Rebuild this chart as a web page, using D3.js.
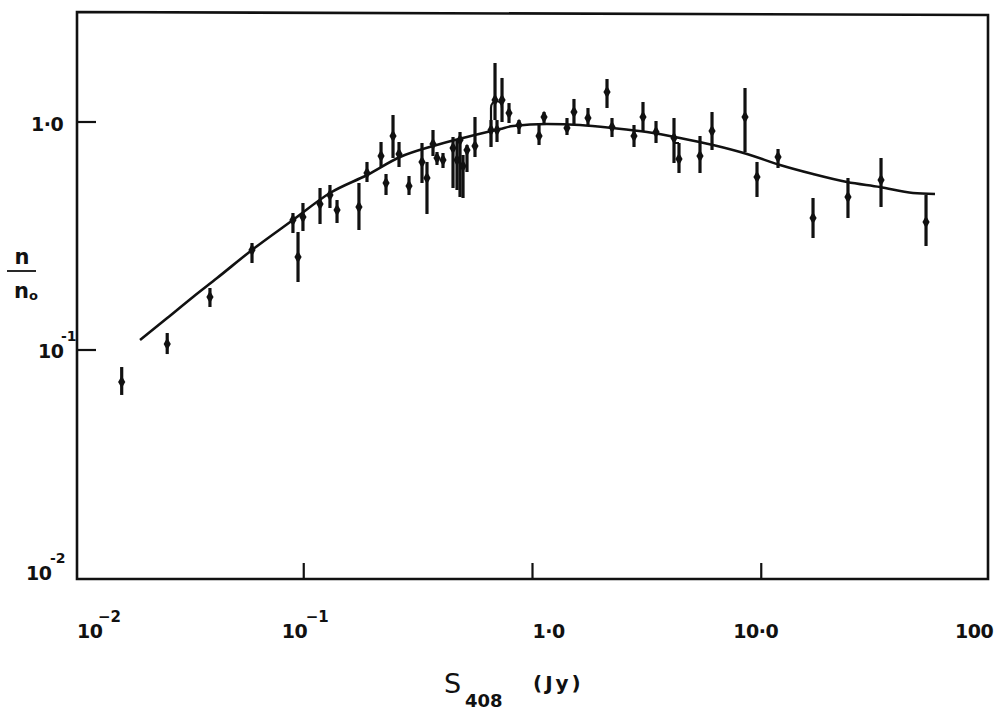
<!DOCTYPE html>
<html>
<head>
<meta charset="utf-8">
<script src="https://cdn.jsdelivr.net/npm/d3@7"></script>
<style>
  body { margin: 0; background: #fff; }
  svg text { font-family: "DejaVu Sans", sans-serif; fill: #111; }
</style>
</head>
<body>
<div id="chart"></div>
<script>
// flux density S408 (Jy) of each measured point
const fluxS = [0.0160,0.0253,0.0389,0.0594,0.0897,0.0944,0.0992,0.1178,0.1302,0.1398,
  0.1743,0.1890,0.2177,0.2289,0.2456,0.2609,0.2885,0.3288,0.3457,0.3673,
  0.3824,0.4062,0.4493,0.4677,0.4821,0.4969,0.5172,0.5605,0.6586,0.6857,
  0.6996,0.7358,0.7894,0.8730,1.068,1.123,1.415,1.518,1.748,2.117,
  2.226,2.778,3.041,3.467,4.155,4.369,5.398,6.092,8.492,9.581,
  11.84,16.84,23.94,33.39,52.52];
// n/n0 at each point, with top and bottom of the error bar
const ratio = [0.0724,0.1063,0.1709,0.2746,0.3717,0.2557,0.3833,0.4369,0.4784,0.4111,
  0.4239,0.5974,0.7094,0.5401,0.8681,0.7238,0.5239,0.6679,0.5681,0.8008,
  0.6952,0.6813,0.7691,0.6813,0.8337,0.6412,0.7537,0.7847,0.9224,1.249,
  0.9224,1.249,1.095,0.970,0.8681,1.052,0.941,1.106,1.041,1.354,
  0.951,0.8681,1.052,0.9040,0.851,0.6882,0.7094,0.913,1.052,0.5739,
  0.7023,0.3793,0.4690,0.5567,0.3642];
const ratioHi = [0.0842,0.1187,0.1870,0.2946,0.3990,0.3293,0.4413,0.5134,0.5293,0.4548,
  0.5401,0.6679,0.8172,0.5914,1.073,0.8172,0.5797,0.8091,0.6679,0.9224,
  0.7386,0.7311,0.8596,0.8337,0.9040,0.7166,0.7925,1.052,1.020,1.815,
  1.020,1.560,1.211,1.020,0.990,1.106,1.041,1.262,1.152,1.544,
  1.041,0.970,1.224,1.010,1.041,0.8091,0.8681,1.106,1.410,0.6679,
  0.7614,0.4642,0.5681,0.6952,0.4784];
const ratioLo = [0.0635,0.0960,0.1544,0.2408,0.3260,0.1987,0.3326,0.3569,0.4196,0.3606,
  0.3360,0.5455,0.6348,0.4784,0.6952,0.6348,0.4784,0.5401,0.3950,0.7094,
  0.6478,0.6284,0.5134,0.5032,0.4690,0.4642,0.6035,0.7023,0.7770,1.020,
  0.8172,1.000,0.990,0.886,0.7925,0.990,0.877,0.970,0.970,1.152,
  0.8596,0.7770,0.9040,0.8091,0.6611,0.5974,0.5974,0.7537,0.7386,0.4690,
  0.6284,0.3099,0.3793,0.4239,0.2859];

// the model curve
const curveS = [0.01924,0.0253,0.0328,0.0418,0.0594,0.0897,0.1302,0.1890,0.2635,0.3673,
  0.5172,0.7210,0.8218,1.157,1.613,2.248,3.166,4.413,6.154,8.664,
  12.08,16.84,23.71,33.05,46.07,57.48];
const curveN = [0.1106,0.1381,0.1709,0.2069,0.2746,0.3717,0.4882,0.5854,0.7023,0.7847,
  0.8596,0.9317,0.9605,0.9800,0.970,0.941,0.9040,0.851,0.7925,0.7238,
  0.6478,0.5914,0.5455,0.5186,0.4882,0.4832];

// ticks
const xTicks = [0.01, 0.1, 1, 10, 100];
const xTickBase = ["10", "10", "1·0", "10·0", "100"];
const xTickSup = ["−2", "−1", "", "", ""];
const yTicks = [1, 0.1, 0.01];
const yTickBase = ["1·0", "10", "10"];
const yTickSup = ["", "-1", "-2"];

// hand-placed label positions, relative to the tick
const xLabelDx = [2, -22, 0, -28, -35];   // left edge of base text
const xSupDx = [21, 24, 0, 0, 0];         // exponent offset from base text
const yLabelX = [31, 38, 26];             // left edge of base text
const yLabelDy = [9, 8, 2];
const ySupX = [0, 61, 50];

const width = 997, height = 710;
const svg = d3.select("#chart").append("svg")
    .attr("width", width)
    .attr("height", height);

const x = d3.scaleLog().domain([0.01, 100]).range([75, 990]);
const y = d3.scaleLog().domain([0.01, 1]).range([578, 122]);

// frame
const frameL = 77, frameR = 988, frameT = 12, frameB = 579;
svg.append("path")
    .attr("d", `M${frameL},${frameT} L${frameR},${frameT + 3} L${frameR},${frameB} L${frameL},${frameB} Z`)
    .attr("fill", "none")
    .attr("stroke", "#111")
    .attr("stroke-width", 2.6);

// x ticks (inside, upward)
svg.selectAll(".xtick")
    .data(xTicks.slice(1, 4))
    .enter()
    .append("line")
        .attr("x1", function(d) { return x(d); })
        .attr("x2", function(d) { return x(d); })
        .attr("y1", frameB)
        .attr("y2", frameB - 16)
        .attr("stroke", "#111")
        .attr("stroke-width", 2.2);

// y ticks (inside, rightward)
svg.selectAll(".ytick")
    .data(yTicks.slice(0, 2))
    .enter()
    .append("line")
        .attr("x1", frameL)
        .attr("x2", frameL + 19)
        .attr("y1", function(d) { return y(d); })
        .attr("y2", function(d) { return y(d); })
        .attr("stroke", "#111")
        .attr("stroke-width", 2.2);

// x tick labels
xTicks.forEach(function(d, i) {
    svg.append("text")
        .attr("x", x(d) + xLabelDx[i])
        .attr("y", 638)
        .attr("font-size", "19px")
        .attr("font-weight", "bold")
        .attr("letter-spacing", "-0.5")
        .text(xTickBase[i]);
    if (xTickSup[i]) {
        svg.append("text")
            .attr("x", x(d) + xLabelDx[i] + xSupDx[i])
            .attr("y", 622)
            .attr("font-size", "15px")
            .attr("font-weight", "bold")
            .text(xTickSup[i]);
    }
});

// y tick labels
yTicks.forEach(function(d, i) {
    svg.append("text")
        .attr("x", yLabelX[i])
        .attr("y", y(d) + yLabelDy[i])
        .attr("font-size", "19px")
        .attr("font-weight", "bold")
        .attr("letter-spacing", "-0.5")
        .text(yTickBase[i]);
    if (yTickSup[i]) {
        svg.append("text")
            .attr("x", ySupX[i])
            .attr("y", y(d) + yLabelDy[i] - 17)
            .attr("font-size", "14px")
            .attr("font-weight", "bold")
            .text(yTickSup[i]);
    }
});

// y axis title n / n_o
svg.append("text").attr("x", 22).attr("y", 264).attr("text-anchor", "middle")
    .attr("font-size", "21px").attr("font-weight", "bold").text("n");
svg.append("line").attr("x1", 7).attr("x2", 36).attr("y1", 271).attr("y2", 271)
    .attr("stroke", "#111").attr("stroke-width", 1.8);
svg.append("text").attr("x", 14).attr("y", 298)
    .attr("font-size", "21px").attr("font-weight", "bold")
    .call(function(t) {
        t.append("tspan").text("n");
        t.append("tspan").attr("dy", 2).attr("font-size", "13px").text("o");
    });

// x axis title S_408 (Jy)
svg.append("text").attr("x", 444).attr("y", 693)
    .attr("font-size", "27px")
    .text("S");
svg.append("text").attr("x", 465).attr("y", 707)
    .attr("font-size", "18px").attr("font-weight", "bold")
    .text("408");
svg.append("text").attr("x", 533).attr("y", 690)
    .attr("font-size", "20px").attr("font-weight", "bold")
    .attr("letter-spacing", "3")
    .text("(Jy)");

// model curve
const line = d3.line()
    .x(function(d) { return x(d[0]); })
    .y(function(d) { return y(d[1]); })
    .curve(d3.curveMonotoneX);

svg.append("path")
    .datum(d3.zip(curveS, curveN))
    .attr("d", line)
    .attr("fill", "none")
    .attr("stroke", "#111")
    .attr("stroke-width", 2.6);

// bracket round points 29/32 and the join of points 45/46
svg.append("path")
    .attr("d", function() {
        const x0 = x(fluxS[28]), x1 = x(fluxS[31]);
        const yb = y(ratioLo[28]), yt = y(ratio[29]);
        return `M${x0},${yb} L${x0},${yt + 8} C${x0},${yt - 1} ${x1},${yt - 1} ${x1},${yt + 8}`;
    })
    .attr("fill", "none")
    .attr("stroke", "#111")
    .attr("stroke-width", 2.2);
svg.append("line")
    .attr("x1", x(fluxS[44])).attr("x2", x(fluxS[45]))
    .attr("y1", y(ratioHi[45])).attr("y2", y(ratioHi[45]))
    .attr("stroke", "#111").attr("stroke-width", 2);

const pts = fluxS.map(function(s, i) {
    return { s: s, n: ratio[i], lo: ratioLo[i], hi: ratioHi[i] };
});

// error bars
svg.selectAll(".err")
    .data(pts)
    .enter()
    .append("line")
        .attr("x1", function(d) { return x(d.s); })
        .attr("x2", function(d) { return x(d.s); })
        .attr("y1", function(d) { return y(d.hi); })
        .attr("y2", function(d) { return y(d.lo); })
        .attr("stroke", "#111")
        .attr("stroke-width", 3.2);

// points (small diamonds)
const diamond = d3.symbol().type(d3.symbolDiamond).size(45);
svg.selectAll(".pt")
    .data(pts)
    .enter()
    .append("path")
        .attr("d", diamond)
        .attr("transform", function(d) { return `translate(${x(d.s)},${y(d.n)})`; })
        .attr("fill", "#111");
</script>
</body>
</html>
